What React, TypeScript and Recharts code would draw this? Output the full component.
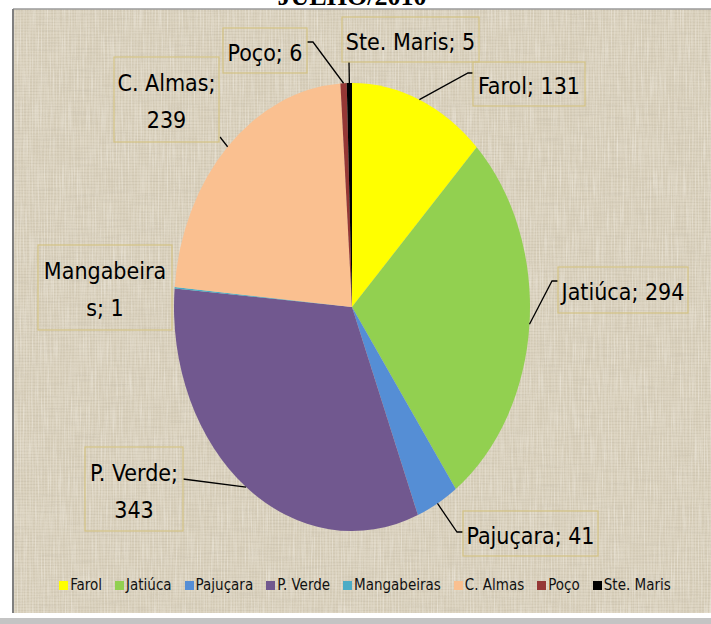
import { PieChart, Pie, Cell, Legend } from 'recharts'

const categories = ['Farol', 'Jatiúca', 'Pajuçara', 'P. Verde', 'Mangabeiras', 'C. Almas', 'Poço', 'Ste. Maris']
const values = [131, 294, 41, 343, 1, 239, 6, 5]
const sliceColors = ['#FFFF00', '#92D050', '#558ED5', '#71588F', '#4BACC6', '#FAC090', '#953735', '#000000']
const chartTitle = 'JULHO/2010'

const data = categories.map((name, i) => ({ name, value: values[i] }))

const W = 711
const H = 624
const CX = 352
const CY = 307
const RX = 178
const RY = 224
const STRETCH = RY / RX
const FONT = "'Liberation Sans Narrow', 'DejaVu Sans Condensed', Roboto, sans-serif"
const RAD = Math.PI / 180

// data label boxes sit where they were dragged in the original sheet,
// elbow = leader line points after the point on the slice edge
const labelLayout: { box: number[]; split: number; elbow: number[][] | null }[] = [
  { box: [473, 62, 112, 44], split: 0, elbow: [[468, 73], [473, 73]] },
  { box: [558, 267, 130, 46], split: 0, elbow: [[552, 281], [558, 281]] },
  { box: [463, 511, 135, 45], split: 0, elbow: [[457, 532], [463, 532]] },
  { box: [85, 447, 98, 84], split: 9, elbow: [[183, 479]] },
  { box: [38, 245, 134, 85], split: 10, elbow: null },
  { box: [114, 57, 105, 85], split: 9, elbow: [[220, 137]] },
  { box: [223, 28, 84, 45], split: 0, elbow: [[313, 42], [307, 42]] },
  { box: [342, 17, 137, 45], split: 0, elbow: [[349, 62]] },
]

const renderLabel = (props: any) => {
  const { cx, cy, midAngle, outerRadius, index, name, value } = props
  const ax = cx + outerRadius * Math.cos(-midAngle * RAD)
  const ay = cy + outerRadius * STRETCH * Math.sin(-midAngle * RAD)
  const { box, split, elbow } = labelLayout[index]
  const [bx, by, bw, bh] = box
  const full = `${name}; ${value}`
  const lines = split ? [full.slice(0, split), full.slice(split).trim()] : [full]
  const midY = by + bh / 2 + 2
  return (
    <g key={`lbl-${index}`}>
      {elbow && (
        <polyline
          points={[[ax, ay], ...elbow].map(p => p.join(',')).join(' ')}
          fill="none"
          stroke="#000"
          strokeWidth={1.3}
        />
      )}
      <rect x={bx} y={by} width={bw} height={bh} fill="none" stroke="#d4c385" strokeWidth={1.2} />
      {lines.map((t, i) => (
        <text
          key={i}
          x={bx + bw / 2}
          y={midY + (i - (lines.length - 1) / 2) * 37}
          textAnchor="middle"
          dominantBaseline="central"
          fontFamily={FONT}
          fontSize={23}
          fill="#000"
        >
          {t}
        </text>
      ))}
    </g>
  )
}

const renderLegend = () => (
  <div style={{ display: 'flex', justifyContent: 'center', gap: 13, fontFamily: FONT, fontSize: 15, color: '#111' }}>
    {categories.map((c, i) => (
      <span key={c} style={{ display: 'flex', alignItems: 'center' }}>
        <span style={{ width: 9, height: 9, background: sliceColors[i], marginRight: 2 }} />
        {c}
      </span>
    ))}
  </div>
)

const App = () => {
  return (
    <div style={{ position: 'absolute', left: 0, top: 0, width: W, height: H, background: '#fff', overflow: 'hidden' }}>
      <style>{`.elliptic-pie path.recharts-sector { transform: translateY(${CY}px) scaleY(${STRETCH}) translateY(-${CY}px); }`}</style>
      <svg width={W} height={H} style={{ position: 'absolute', left: 0, top: 0 }}>
        <defs>
          <pattern id="weave" width="3" height="3" patternUnits="userSpaceOnUse">
            <rect width="3" height="3" fill="#d9d0bc" />
            <rect y="1" width="3" height="1" fill="#c9bfa8" opacity="0.4" />
            <rect x="2" width="1" height="3" fill="#e6dfcf" opacity="0.4" />
          </pattern>
          <filter id="grain" x="0" y="0" width="100%" height="100%">
            <feTurbulence type="fractalNoise" baseFrequency="0.03 0.7" numOctaves="2" seed="7" />
            <feColorMatrix type="matrix" values="0 0 0 0 0.55  0 0 0 0 0.5  0 0 0 0 0.4  0.9 0 0 0 -0.4" />
          </filter>
          <filter id="grain2" x="0" y="0" width="100%" height="100%">
            <feTurbulence type="fractalNoise" baseFrequency="0.7 0.03" numOctaves="2" seed="3" />
            <feColorMatrix type="matrix" values="0 0 0 0 0.94  0 0 0 0 0.91  0 0 0 0 0.85  0.9 0 0 0 -0.4" />
          </filter>
        </defs>
        <text x={352} y={5} textAnchor="middle" fontFamily="'Liberation Serif', 'Times New Roman', serif" fontWeight="bold" fontSize={26}>
          {chartTitle}
        </text>
        <rect x={13} y={9} width={W - 13} height={604} fill="url(#weave)" />
        <rect x={13} y={9} width={W - 13} height={604} filter="url(#grain)" />
        <rect x={13} y={9} width={W - 13} height={604} filter="url(#grain2)" />
        <line x1={13} y1={9} x2={W} y2={9} stroke="#9a9a9a" strokeWidth={1.5} />
        <line x1={13} y1={9} x2={13} y2={613} stroke="#7f7f7f" strokeWidth={2} />
        <rect x={0} y={618} width={W} height={6} fill="#c4c4c4" />
      </svg>
      <div className="elliptic-pie" style={{ position: 'absolute', left: 0, top: 0 }}>
        <PieChart width={W} height={H} margin={{ top: 0, right: 0, bottom: 0, left: 0 }}>
          <Pie
            data={data}
            dataKey="value"
            nameKey="name"
            cx={CX}
            cy={CY}
            outerRadius={RX}
            startAngle={90}
            endAngle={-270}
            stroke="none"
            label={renderLabel}
            labelLine={false}
            isAnimationActive={false}
          >
            {data.map((d, i) => (
              <Cell key={d.name} fill={sliceColors[i]} />
            ))}
          </Pie>
          <Legend content={renderLegend} wrapperStyle={{ position: 'absolute', left: 20, top: 576, width: 690 }} />
        </PieChart>
      </div>
    </div>
  )
}

export default App
